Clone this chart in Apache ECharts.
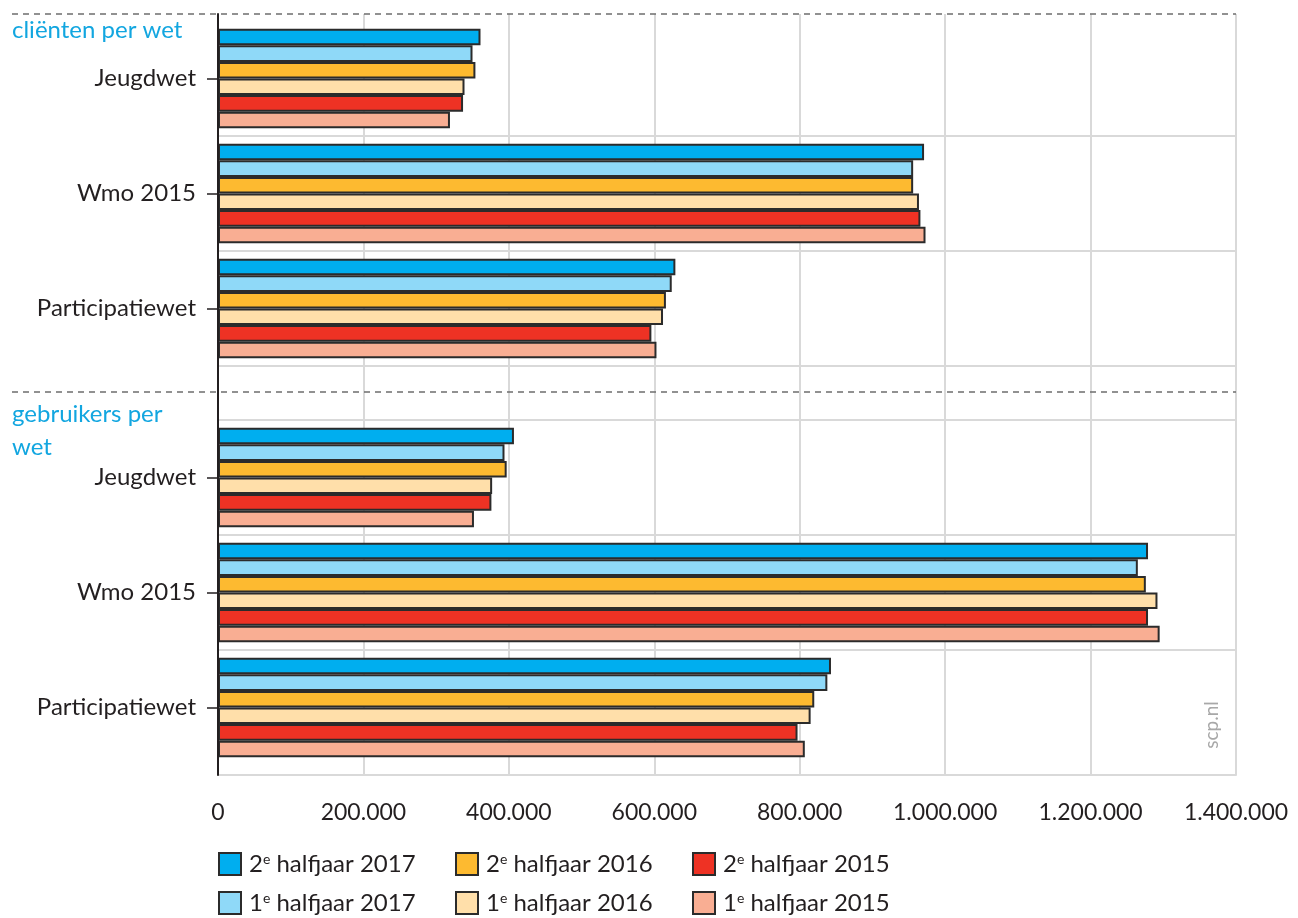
<!DOCTYPE html>
<html>
<head>
<meta charset="utf-8">
<script src="https://cdn.jsdelivr.net/npm/echarts@6/dist/echarts.min.js"></script>
<style>
html,body{margin:0;padding:0;background:#fff;}
#chart{width:1298px;height:918px;}
</style>
</head>
<body>
<div id="chart"></div>
<script>
// ---- data ----
var categories = ['Jeugdwet', 'Wmo 2015', 'Participatiewet'];
var seriesNames = ['2e halfjaar 2017', '1e halfjaar 2017', '2e halfjaar 2016', '1e halfjaar 2016', '2e halfjaar 2015', '1e halfjaar 2015'];
var seriesColors = ['#00aeef', '#8fd9f8', '#fdba30', '#ffdfaa', '#ee3224', '#f9ae93'];
var groupTitles = ['cliënten per wet', 'gebruikers per\nwet'];
// cliënten per wet: one array per period, values for [Jeugdwet, Wmo 2015, Participatiewet]
var clienten_2e2017 = [361000, 971000, 629000];
var clienten_1e2017 = [350000, 956000, 624000];
var clienten_2e2016 = [354000, 956000, 616000];
var clienten_1e2016 = [339000, 964000, 612000];
var clienten_2e2015 = [337000, 966000, 596000];
var clienten_1e2015 = [319000, 973000, 603000];
// gebruikers per wet
var gebruikers_2e2017 = [407000, 1279000, 843000];
var gebruikers_1e2017 = [394000, 1265000, 838000];
var gebruikers_2e2016 = [397000, 1276000, 820000];
var gebruikers_1e2016 = [377000, 1292000, 815000];
var gebruikers_2e2015 = [376000, 1279000, 797000];
var gebruikers_1e2015 = [352000, 1295000, 807000];
var xTicks = [0, 200000, 400000, 600000, 800000, 1000000, 1200000, 1400000];

var clienten = [clienten_2e2017, clienten_1e2017, clienten_2e2016, clienten_1e2016, clienten_2e2015, clienten_1e2015];
var gebruikers = [gebruikers_2e2017, gebruikers_1e2017, gebruikers_2e2016, gebruikers_1e2016, gebruikers_2e2015, gebruikers_1e2015];

// ---- styling ----
var FONT = 'Lato';
var TXT = '#231f20';
var GRIDC = '#d9d9d9';
var xMin = xTicks[0], xMax = xTicks[xTicks.length - 1], xStep = xTicks[1] - xTicks[0];

function fmt(v) { return String(v).replace(/\B(?=(\d{3})+(?!\d))/g, '.'); }

var chart = echarts.init(document.getElementById('chart'), null, {renderer: 'canvas'});

var series = [];
for (var i = 0; i < 6; i++) {
  series.push({
    type: 'bar', name: seriesNames[i], xAxisIndex: 1, yAxisIndex: 1,
    data: clienten[i], barWidth: 16.6, barGap: '0%',
    itemStyle: {color: seriesColors[i], borderColor: '#2b2b2b', borderWidth: 2},
    emphasis: {disabled: true}
  });
}
var catsRev = categories.slice().reverse();
for (var j = 0; j < 6; j++) {
  series.push({
    type: 'bar', name: seriesNames[j], xAxisIndex: 2, yAxisIndex: 2,
    data: gebruikers[j].slice().reverse(), barWidth: 16.6, barGap: '0%',
    itemStyle: {color: seriesColors[j], borderColor: '#2b2b2b', borderWidth: 2},
    emphasis: {disabled: true}
  });
}

function legendFormatter(name) { return name.replace(/^(\d)e/, '$1{sup|e}'); }
var legendText = {
  fontFamily: FONT, fontSize: 24, color: TXT, padding: [0, 0, 0, 3],
  rich: {sup: {fontFamily: FONT, fontSize: 14, color: TXT, padding: [0, 0, 10, 0]}}
};
var legendOrder = [0, 2, 4, 1, 3, 5];
var legendCols = [218, 455, 692];
var legendRows = [852, 891];
var legends = legendOrder.map(function (si, k) {
  return {
    data: [seriesNames[si]], left: legendCols[k % 3], top: legendRows[Math.floor(k / 3)],
    padding: 0, itemWidth: 22, itemHeight: 22, icon: 'rect', selectedMode: false,
    formatter: legendFormatter, textStyle: legendText
  };
});

var catAxisLabel = {fontFamily: FONT, fontSize: 24, color: TXT, margin: 22};
var catTick = {show: true, alignWithLabel: true, length: 11, lineStyle: {color: TXT, width: 1.5}};

var option = {
  animation: false,
  backgroundColor: '#ffffff',
  grid: [
    {left: 218, right: 62, top: 14, bottom: 143},
    {left: 218, right: 62, top: 21, height: 345},
    {left: 218, right: 62, top: 420, height: 345}
  ],
  xAxis: [
    {gridIndex: 0, type: 'value', min: xMin, max: xMax, interval: xStep,
     axisLine: {show: true, lineStyle: {color: GRIDC, width: 2}},
     axisTick: {show: false},
     splitLine: {show: true, lineStyle: {color: GRIDC, width: 2}},
     axisLabel: {formatter: fmt, fontFamily: FONT, fontSize: 23, color: TXT, margin: 26}},
    {gridIndex: 1, type: 'value', min: xMin, max: xMax, show: false},
    {gridIndex: 2, type: 'value', min: xMin, max: xMax, show: false}
  ],
  yAxis: [
    {gridIndex: 0, type: 'value', min: 0, max: 1,
     axisLine: {show: true, lineStyle: {color: '#231f20', width: 2}},
     axisTick: {show: false}, axisLabel: {show: false}, splitLine: {show: false}, z: 5},
    {gridIndex: 1, type: 'category', data: categories, inverse: true,
     axisLine: {show: false}, axisTick: catTick, axisLabel: catAxisLabel,
     splitLine: {show: true, interval: function (i) { return i > 0; }, lineStyle: {color: GRIDC, width: 2}}},
    {gridIndex: 2, type: 'category', data: catsRev, inverse: false,
     axisLine: {show: false}, axisTick: catTick, axisLabel: catAxisLabel,
     splitLine: {show: true, interval: function (i) { return i > 0; }, lineStyle: {color: GRIDC, width: 2}}}
  ],
  legend: legends,
  graphic: [
    {type: 'line', shape: {x1: 12, y1: 14, x2: 1236, y2: 14}, style: {stroke: '#6d6d6d', lineWidth: 1.5, lineDash: [6, 5]}, z: 10},
    {type: 'line', shape: {x1: 12, y1: 392, x2: 1236, y2: 392}, style: {stroke: '#6d6d6d', lineWidth: 1.5, lineDash: [6, 5]}, z: 10},
    {type: 'text', left: 12, top: 18, style: {text: groupTitles[0], fill: '#12a6e0', font: '24px Lato'}},
    {type: 'text', left: 12, top: 398, style: {text: groupTitles[1], fill: '#12a6e0', font: '24px Lato', lineHeight: 33}},
    {type: 'text', x: 1212, y: 725, rotation: Math.PI / 2, style: {text: 'scp.nl', fill: '#a8a8a8', font: '19px Lato', align: 'center', verticalAlign: 'middle'}}
  ],
  series: series
};
chart.setOption(option);
</script>
</body>
</html>
